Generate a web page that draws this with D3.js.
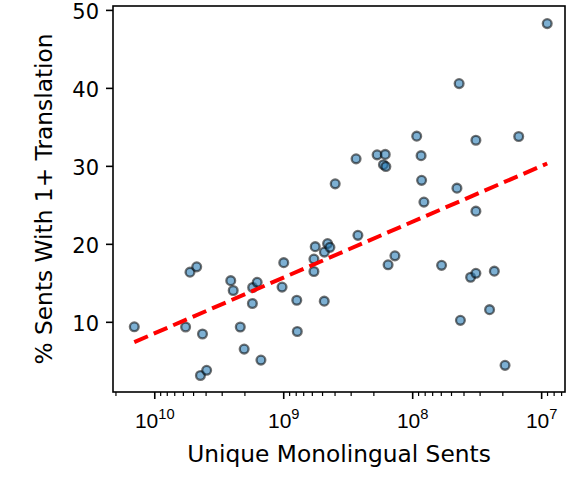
<!DOCTYPE html>
<html>
<head>
<meta charset="utf-8">
<script src="https://cdn.jsdelivr.net/npm/d3@7"></script>
<style>
  html, body { margin: 0; padding: 0; background: #fff; }
  svg { display: block; font-family: "DejaVu Sans", sans-serif; }
</style>
</head>
<body>
<svg id="chart" width="576" height="500"></svg>
<script>
// ---- data ----
const sentCounts = [
  1.429e10, 5.715e9, 5.284e9, 4.688e9, 4.227e9, 4.385e9, 3.926e9, 2.553e9, 2.443e9, 2.153e9,
  2.009e9, 1.734e9, 1.726e9, 1.592e9, 1.489e9, 9.908e8, 1.021e9, 7.852e8, 7.780e8, 5.781e8,
  5.781e8, 5.649e8, 4.797e8, 4.529e8, 4.345e8, 4.808e8, 2.636e8, 1.538e8, 1.361e8, 8.110e7,
  5.916e7, 4.227e7, 3.524e7, 3.206e7, 2.307e7, 2.512e7, 1.905e7, 3.206e7, 8.974e6, 4.325e7,
  9.226e7, 3.206e7, 1.493e7, 2.723e8, 1.871e8, 1.618e8, 1.671e8, 1.600e8, 8.531e7, 8.453e7,
  3.954e8, 4.498e7
];
const pctTranslated = [
  9.36, 9.34, 16.37, 17.05, 8.44, 3.12, 3.78, 15.28, 14.01, 9.33,
  6.50, 12.35, 14.40, 15.06, 5.09, 17.59, 14.45, 12.76, 8.76, 16.45,
  18.04, 19.64, 18.94, 20.03, 19.55, 12.65, 21.09, 17.31, 18.46, 25.35,
  17.24, 10.19, 15.71, 16.22, 16.50, 11.56, 4.42, 24.19, 48.24, 40.55,
  33.81, 33.29, 33.76, 30.90, 31.41, 31.47, 30.15, 29.91, 31.31, 28.14,
  27.69, 27.14
];
// fitted trend line endpoints (log-x fit, as drawn)
const trendX = [1.429e10, 8.974e6];
const trendY = [7.4, 30.3];

const xMajorTicks = [1e10, 1e9, 1e8, 1e7];
const xMajorExps = ["10", "9", "8", "7"];
const yTicks = [10, 20, 30, 40, 50];

const xLabel = "Unique Monolingual Sents";
const yLabel = "% Sents With 1+ Translation";

// ---- layout ----
const L = 113, R = 565, T = 6, B = 392;
const svg = d3.select("#chart");

const x = d3.scaleLog().domain([Math.pow(10, 10.32), Math.pow(10, 6.815)]).range([L, R]);
const y = d3.scaleLinear().domain([1.0, 50.5]).range([B, T]);

// minor ticks
const minorTicks = [];
for (let e = 6; e <= 10; e++) {
  for (let m = 2; m <= 9; m++) {
    const v = m * Math.pow(10, e);
    const lv = Math.log10(v);
    if (lv <= 10.32 && lv >= 6.815) minorTicks.push(v);
  }
}

// ---- points ----
const pts = sentCounts.map((v, i) => ({x: v, y: pctTranslated[i]}));
svg.append("g")
  .selectAll("circle")
  .data(pts)
  .join("circle")
  .attr("cx", d => x(d.x))
  .attr("cy", d => y(d.y))
  .attr("r", 4.4)
  .attr("fill", "#1f77b4")
  .attr("fill-opacity", 0.58)
  .attr("stroke", "#000")
  .attr("stroke-opacity", 0.55)
  .attr("stroke-width", 2.3);

// ---- trend line ----
const line = d3.line().x(d => x(d[0])).y(d => y(d[1]));
svg.append("path")
  .datum(trendX.map((v, i) => [v, trendY[i]]))
  .attr("d", line)
  .attr("fill", "none")
  .attr("stroke", "#ff0000")
  .attr("stroke-width", 4)
  .attr("stroke-dasharray", "14.8,6.4");

// ---- axes ----
const xAxisMinor = d3.axisBottom(x).tickValues(minorTicks).tickSize(4).tickFormat("");
const gxm = svg.append("g").attr("transform", `translate(0,${B})`).call(xAxisMinor);
gxm.select(".domain").remove();
gxm.selectAll("line").attr("stroke", "#000").attr("stroke-width", 1.2);

const xAxis = d3.axisBottom(x).tickValues(xMajorTicks).tickSize(7).tickFormat("");
const gx = svg.append("g").attr("transform", `translate(0,${B})`).call(xAxis);
gx.select(".domain").remove();
gx.selectAll("line").attr("stroke", "#000").attr("stroke-width", 1.6);
gx.selectAll(".tick").each(function(d, i) {
  const t = d3.select(this).append("text")
    .attr("fill", "#000")
    .attr("y", 36)
    .attr("text-anchor", "middle")
    .style("font-size", "21px");
  t.append("tspan").text("10");
  t.append("tspan").attr("dy", -9.5).style("font-size", "14.7px").text(xMajorExps[i]);
});

const yAxis = d3.axisLeft(y).tickValues(yTicks).tickSize(7).tickPadding(7).tickFormat(d3.format("d"));
const gy = svg.append("g").attr("transform", `translate(${L},0)`).call(yAxis);
gy.select(".domain").remove();
gy.selectAll("line").attr("stroke", "#000").attr("stroke-width", 1.6);
gy.selectAll("text")
  .attr("fill", "#000")
  .attr("dy", "0.41em")
  .style("font-size", "21px")
  .style("font-family", "DejaVu Sans");

// frame
svg.append("rect")
  .attr("x", L).attr("y", T).attr("width", R - L).attr("height", B - T)
  .attr("fill", "none").attr("stroke", "#000").attr("stroke-width", 1.6);

// labels
svg.append("text")
  .attr("x", (L + R) / 2).attr("y", 462)
  .attr("text-anchor", "middle")
  .style("font-size", "23.3px")
  .text(xLabel);

svg.append("text")
  .attr("transform", `translate(52,${(T + B) / 2}) rotate(-90)`)
  .attr("text-anchor", "middle")
  .style("font-size", "23.3px")
  .text(yLabel);
</script>
</body>
</html>
